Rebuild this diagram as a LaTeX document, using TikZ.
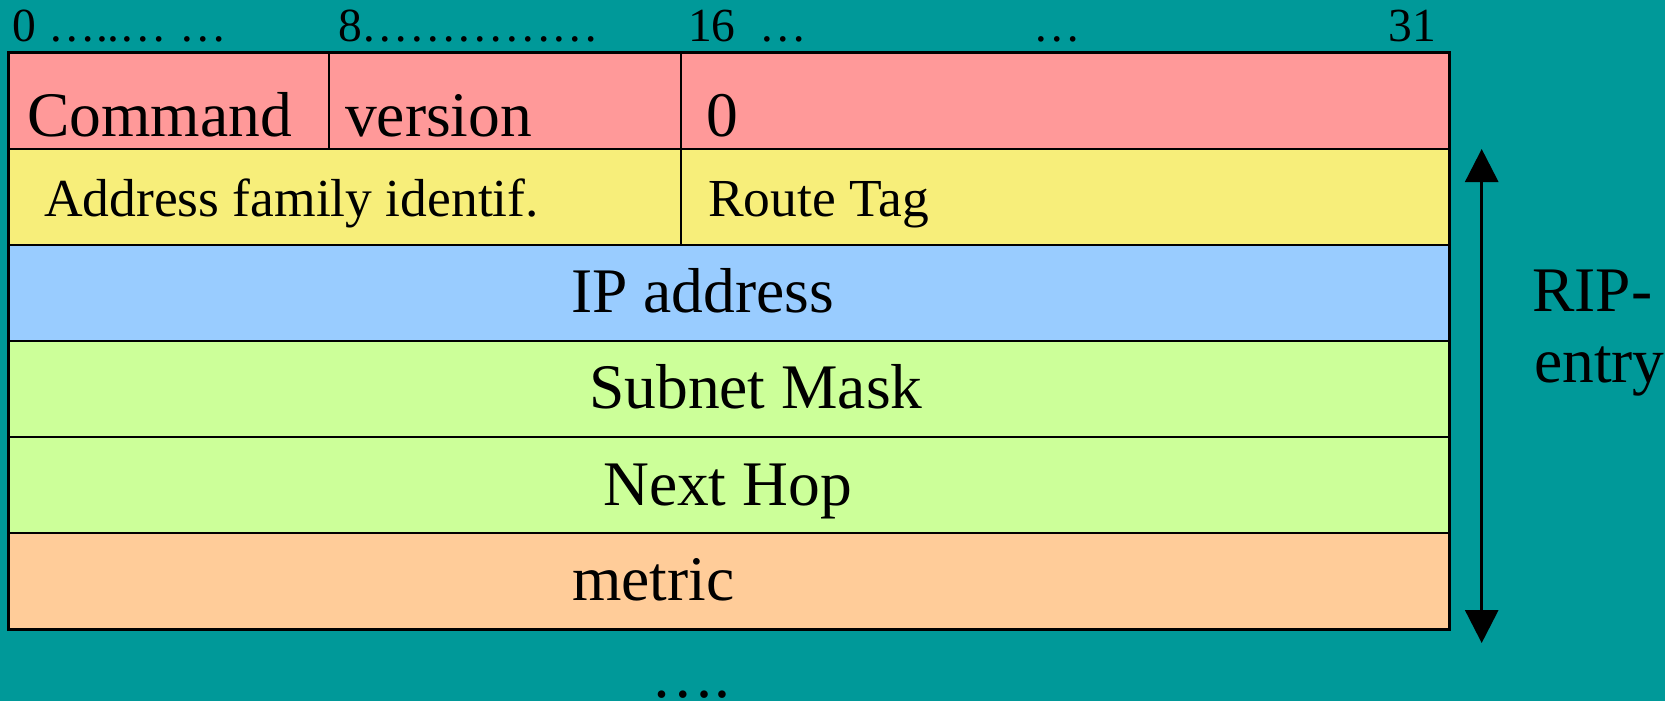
\documentclass[tikz,border=0pt]{standalone}
\usepackage{fontspec}
\setmainfont{Liberation Serif}
\usetikzlibrary{arrows.meta}
\definecolor{bgteal}{HTML}{009999}
\definecolor{rowpink}{HTML}{FF9999}
\definecolor{rowyellow}{HTML}{F7EE7A}
\definecolor{rowblue}{HTML}{99CCFF}
\definecolor{rowgreen}{HTML}{CCFF99}
\definecolor{roworange}{HTML}{FFCC99}
\tikzset{
  x=1pt, y=-1pt,
  hdr/.style={anchor=base west, inner sep=0pt, font=\fontsize{47.5}{52}\selectfont},
  big/.style={anchor=base west, inner sep=0pt, font=\fontsize{63.5}{70}\selectfont},
  mid/.style={anchor=base west, inner sep=0pt, font=\fontsize{53.5}{58}\selectfont},
  rowline/.style={line width=2.5pt, draw=black},
  rip/.style={line width=3pt, {Triangle[width=33pt,length=33pt]}-{Triangle[width=33pt,length=33pt]}}
}
\begin{document}
\begin{tikzpicture}
\fill[bgteal] (0,0) rectangle (1665,701);
\useasboundingbox (0,0) rectangle (1665,701);
% rows
\fill[rowpink]   (8.5,53)  rectangle (1449.5,149);
\fill[rowyellow] (8.5,149) rectangle (1449.5,245);
\fill[rowblue]   (8.5,245) rectangle (1449.5,341);
\fill[rowgreen]  (8.5,341) rectangle (1449.5,437);
\fill[rowgreen]  (8.5,437) rectangle (1449.5,533);
\fill[roworange] (8.5,533) rectangle (1449.5,629);
\foreach \y in {149,245,341,437,533} \draw[rowline] (8.5,\y) -- (1449.5,\y);
\draw[rowline] (329,53) -- (329,149);
\draw[rowline] (681,53) -- (681,245);
\draw[line width=3pt] (8.5,53) rectangle (1449.5,629);
% header
\node[hdr] (h0)  at (12.7,41.7) {0 …..… …};
\node[hdr] (h8)  at (338,41.7) {8……………};
\node[hdr] (h16) at (688,41.7) {16\ \ …};
\node[hdr] (hm)  at (1033,41.7) {…};
\node[hdr, anchor=base east] (h31) at (1436,41.7) {31};
% fields
\node[big] (cmd) at (27,136.5) {Command};
\node[big] (ver) at (345,136.5) {version};
\node[big] (zero) at (706,136.5) {0};
\node[mid] (afi) at (44,216) {Address family identif.};
\node[mid] (tag) at (708,216) {Route Tag};
\node[big] (ip) at (571,312) {IP address};
\node[big] (mask) at (589,408) {Subnet Mask};
\node[big] (hop) at (603,505) {Next Hop};
\node[big] (met) at (572,600) {metric};
% RIP entry
\node[big] (rip1) at (1532,311) {RIP-};
\node[big] (rip2) at (1534,382) {entry};
\coordinate (arrtop) at (1481.7,149);
\coordinate (arrbot) at (1481.7,643);
\draw[rip] (arrtop) -- (arrbot);
% more
\node[big, text depth=0pt] (more) at (651,697) {….};
\end{tikzpicture}
\end{document}
